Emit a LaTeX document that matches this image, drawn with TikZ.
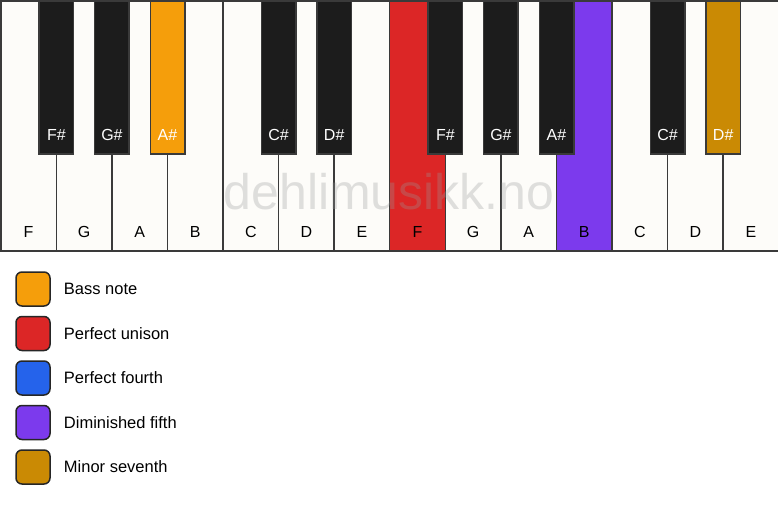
\documentclass[tikz,border=0pt]{standalone}
\usepackage{fontspec}
\setmainfont{Liberation Sans}
\usetikzlibrary{calc,positioning}
\definecolor{keywhite}{HTML}{FDFCF9}
\definecolor{keyblack}{HTML}{1C1C1C}
\definecolor{keyedge}{HTML}{3A3A3A}
\definecolor{bassnote}{HTML}{F59E0B}
\definecolor{unison}{HTML}{DC2626}
\definecolor{fourth}{HTML}{2563EB}
\definecolor{dimfifth}{HTML}{7C3AED}
\definecolor{minseventh}{HTML}{CA8A04}
\tikzset{
  whitekey/.style={draw=keyedge, line width=1.5pt, fill=keywhite, anchor=north west,
    minimum width=55.57pt, minimum height=250pt, inner sep=0pt},
  blackkey/.style={draw=keyedge, line width=1.5pt, fill=keyblack, anchor=north,
    minimum width=34.5pt, minimum height=153pt, inner sep=0pt},
  keylabel/.style={font=\fontsize{16}{19}\selectfont, inner sep=0pt},
  legendbox/.style={draw=black!85, line width=1.5pt, rounded corners=6pt,
    minimum size=34pt, inner sep=0pt},
  legendtext/.style={font=\fontsize{16.5}{19}\selectfont, anchor=west, inner sep=0pt}
}
\begin{document}
\begin{tikzpicture}[x=1pt, y=-1pt]
		%%%%% START %%%%%
		\useasboundingbox[fill=white] (0, 0) rectangle (778, 506);
		
		% white keys
		\foreach \i/\n/\c in {0/F/keywhite, 1/G/keywhite, 2/A/keywhite, 3/B/keywhite,
		    4/C/keywhite, 5/D/keywhite, 6/E/keywhite, 7/F/unison, 8/G/keywhite,
		    9/A/keywhite, 10/B/dimfifth, 11/C/keywhite, 12/D/keywhite, 13/E/keywhite}{
			\node[whitekey, fill=\c] (w\i) at (55.57*\i, 0) {};
			\node[keylabel] (wl\i) at ($(w\i.south)+(0, -20)$) {\n};
		}
		
		% black keys
		\foreach \i/\n/\c in {0/F\#/keyblack, 1/G\#/keyblack, 2/A\#/bassnote,
		    4/C\#/keyblack, 5/D\#/keyblack, 7/F\#/keyblack, 8/G\#/keyblack,
		    9/A\#/keyblack, 11/C\#/keyblack, 12/D\#/minseventh}{
			\node[blackkey, fill=\c] (b\i) at ($(w\i.north east)+(-0.7, 0)$) {};
			\node[keylabel, text=white] (bl\i) at ($(b\i.south)+(0, -20)$) {\n};
		}
		
		% watermark
		\node[font=\fontsize{50}{55}\selectfont, text=black!40, opacity=0.3, inner sep=0pt]
		  (mark) at (389, 192) {dehlimusikk.no};
		
		% legend
		\node[legendbox, fill=bassnote] (lg1) at (33, 289) {};
		\node[legendbox, fill=unison, below=9pt of lg1] (lg2) {};
		\node[legendbox, fill=fourth, below=9pt of lg2] (lg3) {};
		\node[legendbox, fill=dimfifth, below=9pt of lg3] (lg4) {};
		\node[legendbox, fill=minseventh, below=9pt of lg4] (lg5) {};
		
		\node[legendtext, right=13pt of lg1] (lt1) {Bass note};
		\node[legendtext, right=13pt of lg2] (lt2) {Perfect unison};
		\node[legendtext, right=13pt of lg3] (lt3) {Perfect fourth};
		\node[legendtext, right=13pt of lg4] (lt4) {Diminished fifth};
		\node[legendtext, right=13pt of lg5] (lt5) {Minor seventh};
		
		%%%%% END %%%%%
	\end{tikzpicture}
\end{document}
